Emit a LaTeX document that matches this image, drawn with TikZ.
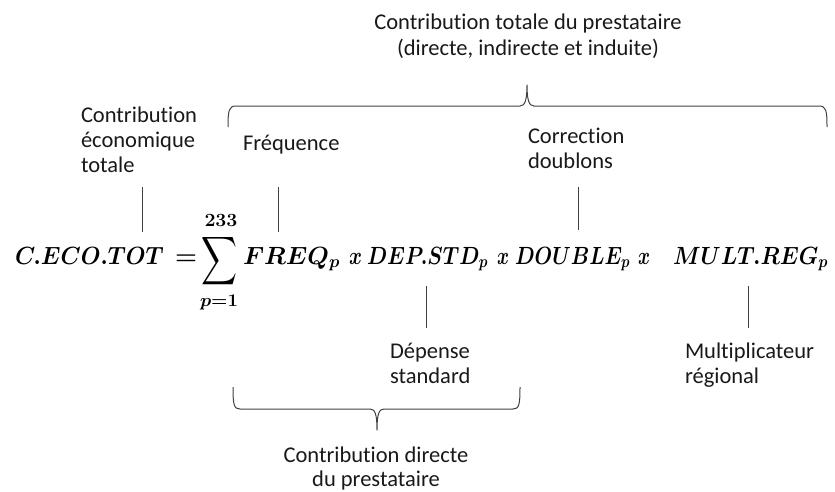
\documentclass[tikz,border=0pt]{standalone}
\usepackage{fontspec}
\usepackage{graphicx}
\newfontfamily\labfont[Ligatures=NoCommon]{Carlito}
\newcommand\fm{\fontsize{25}{30}\selectfont\boldmath}
\newcommand\labf{\labfont\fontsize{22.5}{25}\selectfont}
\tikzset{
  fml/.style={inner sep=0pt, outer sep=0pt, anchor=base west, font=\fm},
  lab/.style={inner sep=0pt, outer sep=0pt, anchor=base west, font=\labf, text=black!90},
  labc/.style={lab, anchor=base},
  tick/.style={draw=black!75, line width=1pt},
  bracepath/.style={draw=black!75, line width=1pt, line join=round},
}
\begin{document}
\begin{tikzpicture}[x=1pt,y=-1pt]
\useasboundingbox (0,0) rectangle (835,491);
% formula
\node[fml] (ceco) at (15,264) {\resizebox{149pt}{\height}{$C.ECO.TOT$}};
\node[fml] (eq) at (175,264) {\resizebox{22pt}{\height}{$=$}};
\node[inner sep=0pt, outer sep=0pt, font=\fm] (sum) at (220,261) {\resizebox*{36pt}{54pt}{$\displaystyle\sum$}};
\node[inner sep=0pt, outer sep=0pt, anchor=base, font=\fm] (up) at (221,226) {\resizebox{33pt}{12pt}{$233$}};
\node[inner sep=0pt, outer sep=0pt, anchor=base, font=\fm] (low) at (219,306) {\resizebox*{38pt}{15pt}{$p{=}1$}};
\node[fml] (freq) at (243,264) {\resizebox{97pt}{\height}{$FREQ_p$}};
\node[fml] (x1) at (349,264) {\resizebox{13pt}{\height}{$x$}};
\node[fml] (dep) at (367,264) {\resizebox{121pt}{\height}{$DEP.STD_p$}};
\node[fml] (x2) at (497,264) {\resizebox{12pt}{\height}{$x$}};
\node[fml] (dbl) at (515,264) {\resizebox{115pt}{\height}{$DOUBLE_p$}};
\node[fml] (x3) at (638,264) {\resizebox{12pt}{\height}{$x$}};
\node[fml] (mult) at (673,264) {\resizebox{155pt}{\height}{$MULT.REG_p$}};
% labels
\node[labc] (t1) at (528,29) {Contribution totale du prestataire};
\node[labc] (t2) at (528,55) {(directe, indirecte et induite)};
\node[lab] (c1) at (81,122) {Contribution};
\node[lab] (c2) at (81,147) {économique};
\node[lab] (c3) at (81,172) {totale};
\node[lab] (fr) at (243,150) {Fréquence};
\node[lab] (co1) at (528,143) {Correction};
\node[lab] (co2) at (528,168) {doublons};
\node[lab] (de1) at (390,358) {Dépense};
\node[lab] (de2) at (390,383) {standard};
\node[lab] (mu1) at (685,358) {Multiplicateur};
\node[lab] (mu2) at (685,383) {régional};
\node[labc] (b1) at (376,462) {Contribution directe};
\node[labc] (b2) at (376,486) {du prestataire};
% ticks
\coordinate (a1) at (142,187); \coordinate (a2) at (142,232);
\coordinate (f1) at (278,187); \coordinate (f2) at (278,232);
\coordinate (d1) at (578,187); \coordinate (d2) at (578,230);
\coordinate (s1) at (426,286); \coordinate (s2) at (426,328);
\coordinate (m1) at (748,286); \coordinate (m2) at (748,328);
\draw[tick] (a1) -- (a2);
\draw[tick] (f1) -- (f2);
\draw[tick] (d1) -- (d2);
\draw[tick] (s1) -- (s2);
\draw[tick] (m1) -- (m2);
% top brace
\draw[bracepath] (228,127) .. controls (228,110) and (229,106) .. (236,106) -- (520,106)
  .. controls (525,106) and (527,100) .. (527,85)
  .. controls (527,100) and (529,106) .. (534,106) -- (819,106)
  .. controls (826,106) and (827,110) .. (827,127);
% bottom brace
\draw[bracepath] (233,387) .. controls (233,405) and (234,409) .. (240,409) -- (370,409)
  .. controls (375,409) and (377,414) .. (377,430)
  .. controls (377,414) and (379,409) .. (384,409) -- (513,409)
  .. controls (519,409) and (520,405) .. (520,387);
\end{tikzpicture}
\end{document}
